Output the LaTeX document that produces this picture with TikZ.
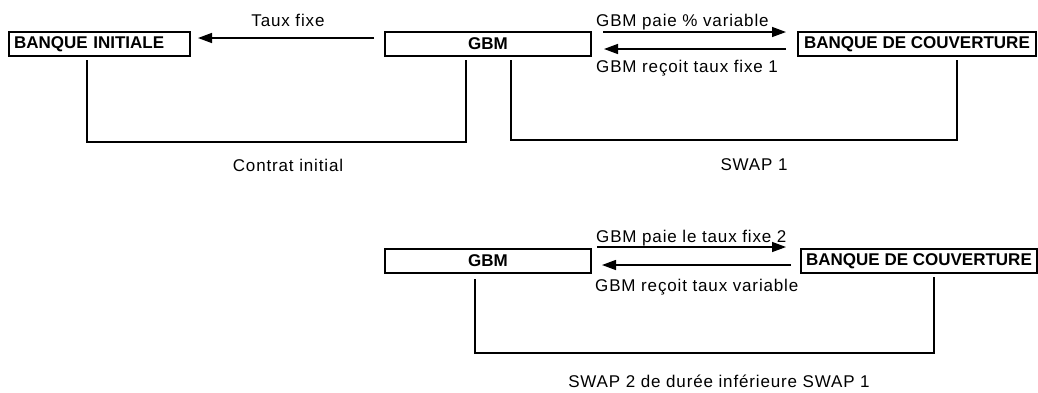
\documentclass[tikz,border=0pt]{standalone}
\usepackage{fontspec}
\setmainfont{Liberation Sans}
\newfontfamily\widesans[LetterSpace=5]{Liberation Sans}
\usepackage{tikz}
\usetikzlibrary{arrows.meta,positioning,calc}

\begin{document}
\begin{tikzpicture}[x=1pt, y=-1pt,
    font=\widesans\fontsize{17}{20}\selectfont,
    party/.style={draw, line width=2pt, minimum height=24pt, inner sep=2pt, font=\rmfamily\fontsize{17}{20}\selectfont\bfseries},
    flow/.style={-{Triangle[length=14pt,width=10pt]}, line width=1.4pt},
    leg/.style={line width=1.3pt},
    lbl/.style={inner sep=0pt}]
    \useasboundingbox (0,0) rectangle (1038,392);
    \node[party, text width=171pt, inner xsep=5pt, align=left] (bi) at (99.5,44) {BANQUE INITIALE};
    \node[party, minimum width=206pt] (gbm1) at (488,44) {GBM};
    \node[party, minimum width=238pt] (bc1) at (917,44) {BANQUE DE COUVERTURE};
    \node[party, minimum width=206pt] (gbm2) at (488,261) {GBM};
    \node[party, minimum width=236pt] (bc2) at (919,261) {BANQUE DE COUVERTURE};
    \draw[flow, shorten <=10pt, shorten >=7pt] ([yshift=6pt]gbm1.west) -- ([yshift=6pt]bi.east);
    \draw[flow, shorten <=11pt, shorten >=11pt] ([yshift=12pt]gbm1.east) -- ([yshift=12pt]bc1.west);
    \draw[flow, shorten <=11pt, shorten >=12pt] ([yshift=-5pt]bc1.west) -- ([yshift=-5pt]gbm1.east);
    \draw[flow, shorten <=5pt, shorten >=14pt] ([yshift=14pt]gbm2.east) -- ([yshift=14pt]bc2.west);
    \draw[flow, shorten <=9pt, shorten >=10pt] ([yshift=-4pt]bc2.west) -- ([yshift=-4pt]gbm2.east);
    \node[lbl] (tf) at (288,20) {Taux fixe};
    \node[lbl, anchor=west] (pv) at (596,22) {GBM paie \% variable};
    \node[lbl, anchor=west] (rf) at (596,68) {GBM reçoit taux fixe 1};
    \node[lbl, anchor=west] (pf) at (596,238) {GBM paie le taux fixe 2};
    \node[lbl, anchor=west] (rv) at (595,287) {GBM reçoit taux variable};
    \draw[leg] ([xshift=-12.5pt, yshift=-3pt]bi.south) |- ([xshift=-22pt, yshift=-85pt]gbm1.south) -- ([xshift=-22pt, yshift=-3pt]gbm1.south);
    \draw[leg] ([xshift=23pt, yshift=-3pt]gbm1.south) |- ([xshift=40pt, yshift=-83pt]bc1.south) -- ([xshift=40pt, yshift=-3pt]bc1.south);
    \draw[leg] ([xshift=-13pt, yshift=-5pt]gbm2.south) |- ([xshift=15pt, yshift=-79pt]bc2.south) -- ([xshift=15pt, yshift=-3pt]bc2.south);
    \node[lbl] (ci) at (288,165) {Contrat initial};
    \node[lbl] (s2) at (754,165) {SWAP 1};
    \node[lbl] (s3) at (719,381) {SWAP 2 de durée inférieure SWAP 1};
\end{tikzpicture}
\end{document}
